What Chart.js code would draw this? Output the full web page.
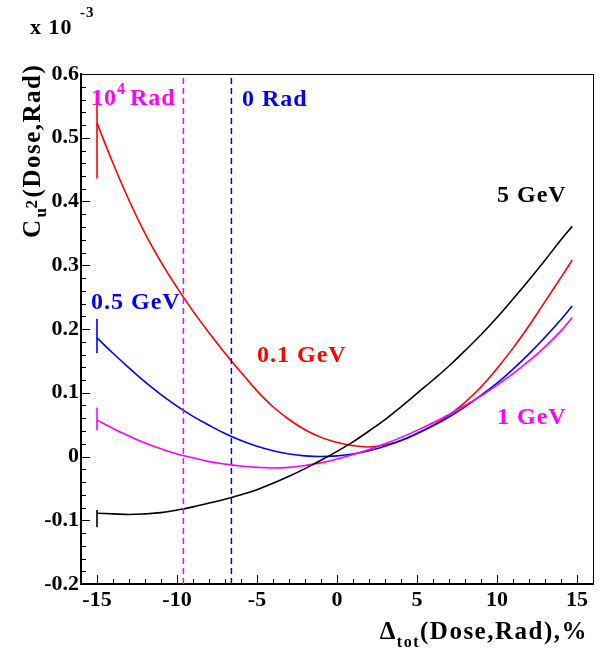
<!DOCTYPE html>
<html>
<head>
<meta charset="utf-8">
<script src="https://cdn.jsdelivr.net/npm/chart.js@4"></script>
<style>
  html, body { margin: 0; padding: 0; background: #fff; }
  #wrap { width: 606px; height: 654px; position: relative; }
</style>
</head>
<body>
<div id="wrap"><canvas id="c"></canvas></div>
<script>
// Delta_tot (Dose, Rad), %
const deltaTot = [-15, -14, -13, -12, -11, -10, -9, -8, -7, -6, -5, -4, -3, -2, -1,
  0, 1, 2, 3, 4, 5, 6, 7, 8, 9, 10, 11, 12, 13, 14, 14.7]

// C_u^2 values, units of 1e-3
const cu2_01GeV = [0.523, 0.460, 0.402, 0.350, 0.305, 0.265, 0.228, 0.194, 0.162, 0.132, 0.103,
  0.078, 0.058, 0.042, 0.030, 0.022, 0.017, 0.015, 0.018, 0.025, 0.036, 0.049, 0.065, 0.085,
  0.109, 0.138, 0.170, 0.205, 0.243, 0.281, 0.308]
const cu2_05GeV = [0.186, 0.162, 0.139, 0.117, 0.097, 0.079, 0.063, 0.049, 0.036, 0.025, 0.016,
  0.009, 0.004, 0.001, 0.000, 0.001, 0.004, 0.009, 0.016, 0.025, 0.036, 0.048, 0.062, 0.078,
  0.096, 0.115, 0.137, 0.161, 0.187, 0.215, 0.236]
const cu2_1GeV = [0.057, 0.044, 0.032, 0.021, 0.012, 0.004, -0.002, -0.008, -0.012, -0.015, -0.017,
  -0.018, -0.017, -0.014, -0.010, -0.004, 0.003, 0.011, 0.020, 0.030, 0.041, 0.053, 0.066, 0.080,
  0.095, 0.112, 0.130, 0.150, 0.172, 0.197, 0.218]
const cu2_5GeV = [-0.089, -0.090, -0.091, -0.090, -0.088, -0.084, -0.079, -0.073, -0.067, -0.060, -0.052,
  -0.042, -0.031, -0.019, -0.006, 0.008, 0.023, 0.040, 0.058, 0.078, 0.099, 0.120, 0.142, 0.166,
  0.191, 0.218, 0.247, 0.277, 0.308, 0.340, 0.361]

// error bars on the first point (low, high)
const errBar_01GeV = [0.436, 0.560]
const errBar_05GeV = [0.162, 0.216]
const errBar_1GeV = [0.041, 0.077]
const errBar_5GeV = [-0.111, -0.084]

// dose markers
const dose1e4Rad = -9.6
const dose0Rad = -6.6

const xRange = [-16, 16]
const yRange = [-0.2, 0.6]

const RED = '#ff0000', BLUE = '#0000ff', MAGENTA = '#ff00ff', BLACK = '#000000'
const FONT = '"Liberation Serif", "Times New Roman", serif'

function curve(values, color) {
  return {
    data: deltaTot.map((x, i) => ({x, y: values[i]})),
    borderColor: color, borderWidth: 1.6,
    pointRadius: 0, showLine: true, tension: 0.4
  }
}

function errBar(x, range, color) {
  return {
    data: range.map(y => ({x, y})),
    borderColor: color, borderWidth: 1.6, pointRadius: 0, showLine: true
  }
}

function vline(x, color) {
  return {
    data: yRange.map(y => ({x, y})),
    borderColor: color, borderWidth: 1.5, borderDash: [6, 4], pointRadius: 0, showLine: true
  }
}

function drawRich(ctx, parts, x, y) {
  for (const p of parts) {
    ctx.font = 'bold ' + p.size + 'px ' + FONT
    ctx.fillText(p.t, x, y + (p.dy || 0))
    x += ctx.measureText(p.t).width + (p.gap || 0)
  }
  return x
}

const rootStyle = {
  id: 'rootStyle',
  afterDraw(chart) {
    const ctx = chart.ctx
    const {left, right, top, bottom} = chart.chartArea
    const xs = chart.scales.x, ys = chart.scales.y
    ctx.save()
    ctx.strokeStyle = BLACK
    ctx.lineWidth = 1
    ctx.beginPath()
    ctx.moveTo(left, top + 0.5); ctx.lineTo(right + 0.5, top + 0.5)
    ctx.moveTo(right + 0.5, top); ctx.lineTo(right + 0.5, bottom)
    // inward ticks
    xs.ticks.forEach(t => {
      const px = Math.round(xs.getPixelForValue(t.value)) + 0.5
      const len = Math.abs(t.value % 5) < 1e-6 ? 9 : 5
      ctx.moveTo(px, bottom); ctx.lineTo(px, bottom - len)
    })
    ys.ticks.forEach(t => {
      const py = Math.round(ys.getPixelForValue(t.value)) + 0.5
      const r = t.value * 10
      const len = Math.abs(r - Math.round(r)) < 1e-6 ? 9 : 5
      ctx.moveTo(left, py); ctx.lineTo(left + len, py)
    })
    ctx.stroke()

    ctx.letterSpacing = '1px'
    ctx.textBaseline = 'alphabetic'
    ctx.textAlign = 'left'

    // curve labels
    ctx.fillStyle = MAGENTA
    let x = drawRich(ctx, [{t: '10', size: 24}, {t: '4', size: 16, dy: -11, gap: 4}], 91, 105)
    drawRich(ctx, [{t: 'Rad', size: 24}], x, 105)
    ctx.fillStyle = BLUE
    drawRich(ctx, [{t: '0 Rad', size: 24}], 242, 106)
    ctx.fillStyle = BLACK
    drawRich(ctx, [{t: '5 GeV', size: 24}], 497, 202)
    ctx.fillStyle = BLUE
    drawRich(ctx, [{t: '0.5 GeV', size: 24}], 91, 309)
    ctx.fillStyle = RED
    drawRich(ctx, [{t: '0.1 GeV', size: 24}], 257, 362)
    ctx.fillStyle = MAGENTA
    drawRich(ctx, [{t: '1 GeV', size: 24}], 497, 424)

    // exponent
    ctx.fillStyle = BLACK
    drawRich(ctx, [{t: 'x 10', size: 22}], 30, 34)
    drawRich(ctx, [{t: '-3', size: 15}], 80, 17)

    // x title
    const xParts = [{t: '\u0394', size: 25}, {t: 'tot', size: 16, dy: 8}, {t: '(Dose,Rad),%', size: 25}]
    ctx.letterSpacing = '1.5px'
    let w = 0
    xParts.forEach(p => { ctx.font = 'bold ' + p.size + 'px ' + FONT; w += ctx.measureText(p.t).width })
    drawRich(ctx, xParts, 588 - w, 639)

    // y title, rotated
    ctx.translate(40, 238)
    ctx.rotate(-Math.PI / 2)
    x = drawRich(ctx, [{t: 'C', size: 25}], 0, 0)
    drawRich(ctx, [{t: 'u', size: 17, dy: 6}], x + 1, 0)
    drawRich(ctx, [{t: '2', size: 17, dy: -3}], x + 10, 0)
    drawRich(ctx, [{t: '(Dose,Rad)', size: 25}], x + 21, 0)
    ctx.restore()
  }
}

new Chart(document.getElementById('c'), {
  type: 'scatter',
  data: {
    datasets: [
      vline(dose1e4Rad, MAGENTA),
      vline(dose0Rad, BLUE),
      curve(cu2_5GeV, BLACK),
      curve(cu2_1GeV, MAGENTA),
      curve(cu2_05GeV, BLUE),
      curve(cu2_01GeV, RED),
      errBar(deltaTot[0], errBar_5GeV, BLACK),
      errBar(deltaTot[0], errBar_1GeV, MAGENTA),
      errBar(deltaTot[0], errBar_05GeV, BLUE),
      errBar(deltaTot[0], errBar_01GeV, RED)
    ]
  },
  options: {
    responsive: true,
    maintainAspectRatio: false,
    animation: false,
    layout: {padding: {left: 0, top: 74, right: 13, bottom: 0}},
    plugins: {legend: {display: false}, tooltip: {enabled: false}},
    scales: {
      x: {
        type: 'linear', min: xRange[0], max: xRange[1],
        grid: {display: false, drawTicks: false},
        border: {display: true, color: BLACK, width: 2},
        afterFit: s => { s.height = 70 },
        ticks: {
          stepSize: 1, autoSkip: false, maxTicksLimit: 100, maxRotation: 0, padding: 3,
          color: BLACK, font: {family: FONT, size: 22, weight: 'bold'},
          callback: v => (Math.abs(v % 5) < 1e-6 ? String(v) : '')
        }
      },
      y: {
        type: 'linear', min: yRange[0], max: yRange[1],
        grid: {display: false, drawTicks: false},
        border: {display: true, color: BLACK, width: 2},
        afterFit: s => { s.width = 81 },
        ticks: {
          stepSize: 0.02, autoSkip: false, maxTicksLimit: 100, padding: 2,
          color: BLACK, font: {family: FONT, size: 22, weight: 'bold'},
          callback: v => {
            const r = v * 10
            return Math.abs(r - Math.round(r)) < 1e-6 ? String(Math.round(r) / 10) : ''
          }
        }
      }
    }
  },
  plugins: [rootStyle]
})
</script>
</body>
</html>
